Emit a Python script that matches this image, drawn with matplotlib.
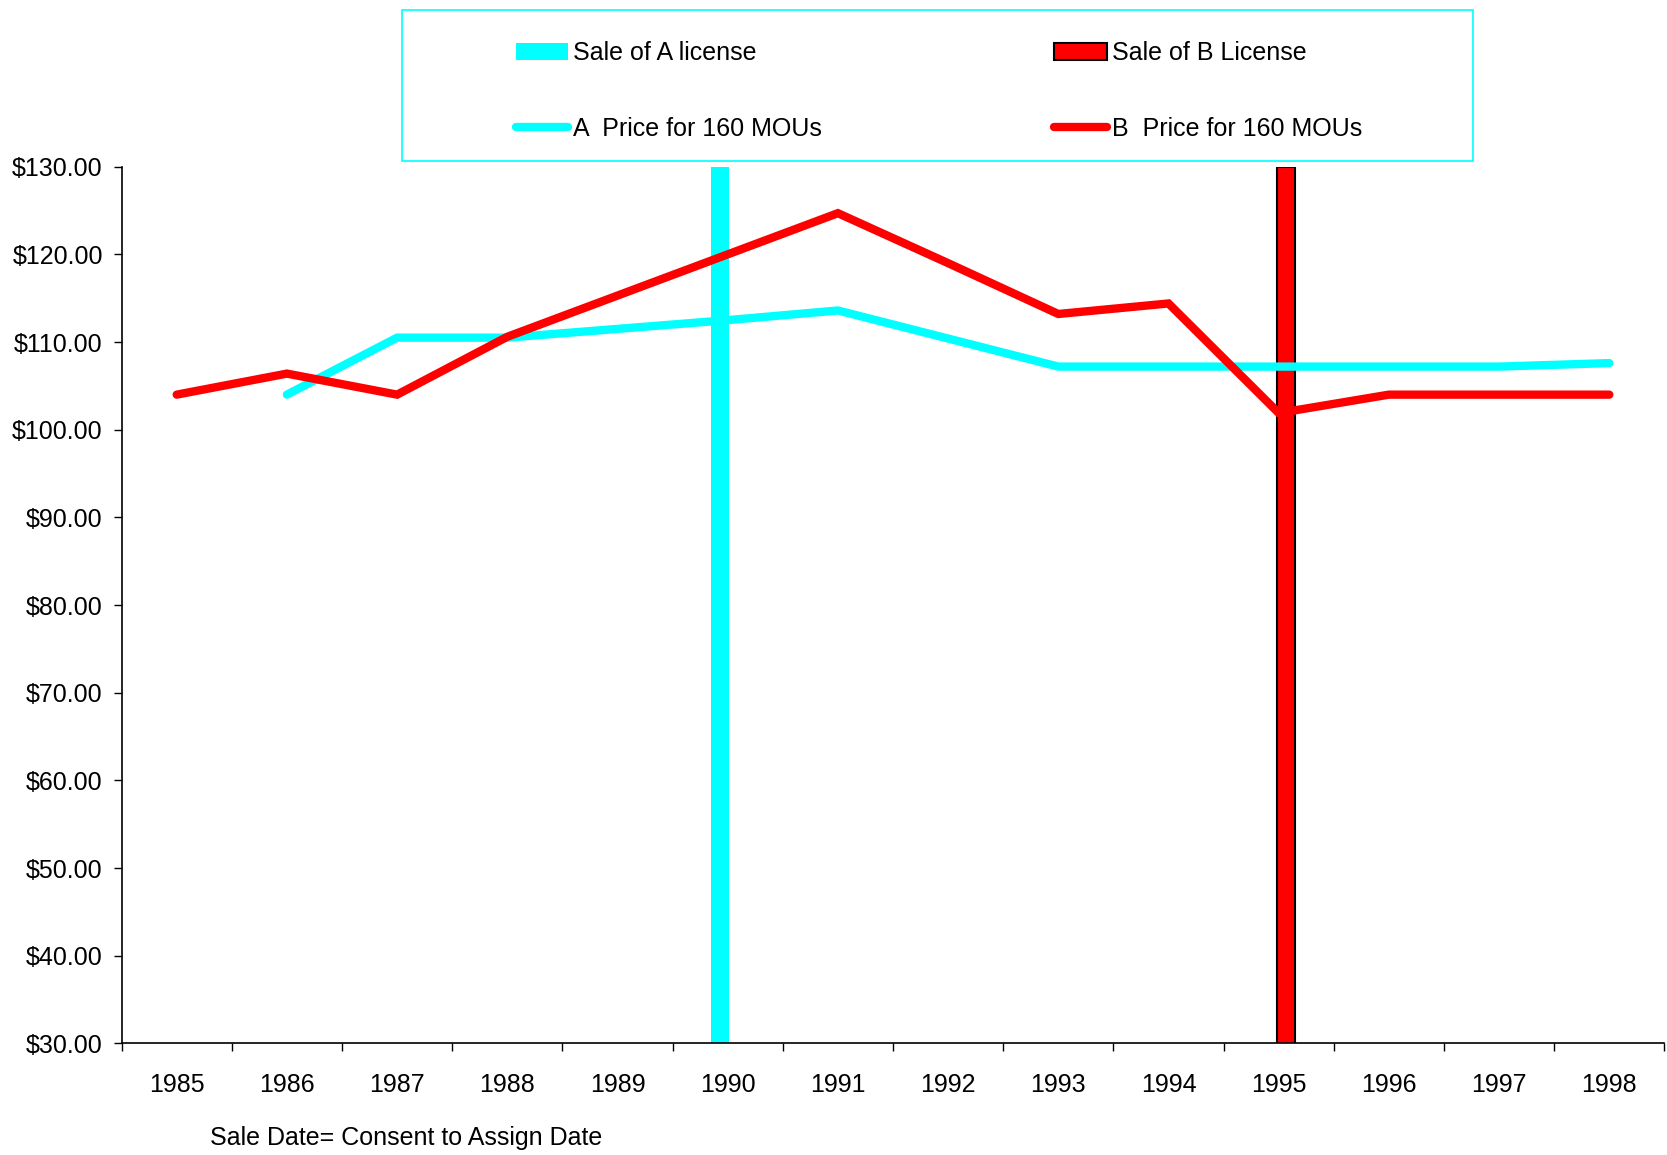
import matplotlib
matplotlib.use("Agg")
import matplotlib.pyplot as plt
import numpy as np
from matplotlib.patches import Rectangle, Patch
from matplotlib.lines import Line2D

plt.rcParams["font.family"] = ["Liberation Sans", "DejaVu Sans"]

# yearly prices and sale markers
years = ["1985", "1986", "1987", "1988", "1989", "1990", "1991",
         "1992", "1993", "1994", "1995", "1996", "1997", "1998"]
a_price = [np.nan, 104.0, 110.5, 110.5, 111.5, 112.5, 113.6,
           110.4, 107.2, 107.2, 107.2, 107.2, 107.2, 107.6]
b_price = [104.0, 106.4, 104.0, 110.6, 115.3, 120.0, 124.7,
           119.0, 113.2, 114.4, 101.9, 104.0, 104.0, 104.0]
sale_a = [0, 0, 0, 0, 0, 130, 0, 0, 0, 0, 0, 0, 0, 0]
sale_b = [0, 0, 0, 0, 0, 0, 0, 0, 0, 0, 130, 0, 0, 0]
yticks = [30, 40, 50, 60, 70, 80, 90, 100, 110, 120, 130]

CYAN = "#00FFFF"
RED = "#FF0000"
FS = 18
LW = 6

W, H = 1667, 1155
fig = plt.figure(figsize=(W / 100, H / 100), dpi=100)
ax = fig.add_axes([121.6 / W, 1 - 1043.4 / H, 1542.8 / W, 876.7 / H])

x = np.arange(len(years))
bw = 0.163
ax.bar(x - 0.07, sale_a, width=bw, color=CYAN, linewidth=0, zorder=2)
ax.bar(x + 0.066, sale_b, width=bw, color=RED, edgecolor="black",
       linewidth=1.5, zorder=2)
ax.plot(x, a_price, color=CYAN, lw=LW, solid_capstyle="round",
        solid_joinstyle="miter", zorder=3)
ax.plot(x, b_price, color=RED, lw=LW, solid_capstyle="round",
        solid_joinstyle="miter", zorder=4)

ax.set_xlim(-0.5, len(years) - 0.5)
ax.set_ylim(30, 130)

for side in ("top", "right"):
    ax.spines[side].set_visible(False)
for side in ("left", "bottom"):
    ax.spines[side].set_linewidth(1.2)

ax.set_yticks(yticks)
ax.set_yticklabels([f"${v:.2f}" for v in yticks], fontsize=FS)
ax.tick_params(axis="y", direction="out", length=5.5, width=1, pad=8)

# tick marks sit between categories, labels at category centres
ax.set_xticks(np.arange(-0.5, len(years), 1.0))
ax.set_xticklabels([])
ax.set_xticks(x, minor=True)
ax.set_xticklabels(years, minor=True, fontsize=FS)
ax.tick_params(axis="x", which="major", direction="out", length=5.5, width=1)
ax.tick_params(axis="x", which="minor", length=0, pad=21)

fig.text(210 / W, 1 - 1138 / H, "Sale Date= Consent to Assign Date",
         fontsize=FS, ha="left", va="center")

# legend frame drawn separately so the entries can be placed freely
fig.add_artist(Rectangle((402 / W, 1 - 160.5 / H), 1071 / W, 150 / H,
                         transform=fig.transFigure, fill=False,
                         edgecolor=CYAN, linewidth=1.2))
handles = [
    Patch(facecolor=CYAN, edgecolor="none", label="Sale of A license"),
    Line2D([], [], color=CYAN, lw=LW, solid_capstyle="round",
           label="A  Price for 160 MOUs"),
    Patch(facecolor=RED, edgecolor="black", linewidth=1.5,
          label="Sale of B License"),
    Line2D([], [], color=RED, lw=LW, solid_capstyle="round",
           label="B  Price for 160 MOUs"),
]
fig.legend(handles=handles, loc="upper left",
           bbox_to_anchor=(503 / W, 1 - 28.5 / H), ncol=2, frameon=False,
           fontsize=FS, borderpad=0, handlelength=2.1, handletextpad=0.2,
           columnspacing=9.3, labelspacing=2.06)

fig.savefig("out.png", dpi=100, facecolor="white")
